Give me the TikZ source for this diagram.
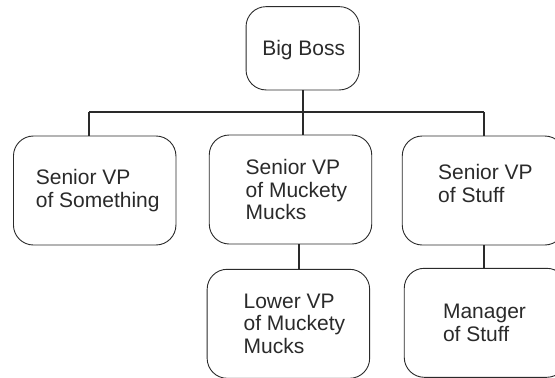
\documentclass[tikz,border=0pt]{standalone}
\usepackage{fontspec}
\setmainfont{Liberation Sans}
\definecolor{ink}{HTML}{2A2A2A}
\tikzset{
  box/.style={draw=ink, line width=0.9pt, rounded corners=20pt, minimum width=162.5pt, minimum height=109pt, inner sep=0pt},
  lbl/.style={align=left, text=ink, font=\fontsize{21}{22.5}\selectfont, inner sep=0pt},
  conn/.style={draw=ink, line width=2pt}
}
\begin{document}
\begin{tikzpicture}[x=1pt,y=-1pt]
\useasboundingbox (0,0) rectangle (555,378);
\clip (0,0) rectangle (555,378);
\node[box, minimum width=113.3pt, minimum height=83.3pt, label={[lbl, xshift=1pt, yshift=-2pt]center:Big Boss}] (bb) at (302.7,48.3) {};
\node[box, label={[lbl, xshift=3pt]center:{Senior VP\\of Something}}] (s1) at (94.7,190.5) {};
\node[box, label={[lbl, xshift=6pt]center:{Senior VP\\of Muckety\\Mucks}}] (s2) at (290.5,189.5) {};
\node[box, label={[lbl, xshift=2pt, yshift=7pt]center:{Senior VP\\of Stuff}}] (s3) at (483.5,190.5) {};
\node[box, label={[lbl, xshift=6pt]center:{Lower VP\\of Muckety\\Mucks}}] (l2) at (288.4,323.8) {};
\node[box, label={[lbl, xshift=-1pt]center:{Manager\\of Stuff}}] (m3) at (485.5,322.8) {};
\coordinate (jl) at (89,112);
\coordinate (jc) at (302.7,112);
\coordinate (jr) at (483.5,112);
\coordinate (x24) at (299.3,0);
\coordinate (x35) at (484.3,0);
\draw[conn] (jl) -- (jr);
\draw[conn] (bb.south) -- (jc);
\draw[conn] (jl) -- (jl |- s1.north);
\draw[conn] (jc) -- (jc |- s2.north);
\draw[conn] (jr) -- (jr |- s3.north);
\draw[conn] (x24 |- s2.south) -- (x24 |- l2.north);
\draw[conn] (x35 |- s3.south) -- (x35 |- m3.north);
\end{tikzpicture}
\end{document}
